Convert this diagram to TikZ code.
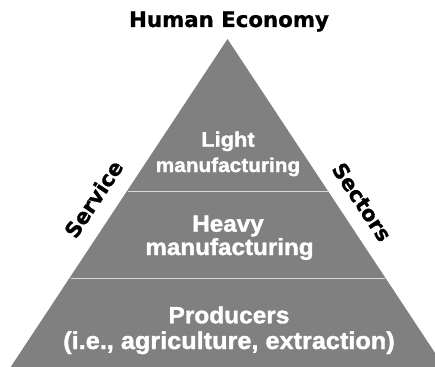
\documentclass[tikz,border=0pt]{standalone}
\usepackage{fontspec}
\newfontfamily\bodyfont{Liberation Sans Bold}[FakeStretch=1.04,FakeBold=1.5]
\newfontfamily\headfont{DejaVu Sans Bold}[FakeBold=1.0]
\definecolor{pyrfill}{gray}{0.5}
\definecolor{divline}{gray}{0.85}
\tikzset{
  headtext/.style={inner sep=0pt, anchor=base, text=black, font=\headfont\fontsize{21.3}{24}\selectfont},
  sidetext/.style={inner sep=0pt, anchor=center, text=black, font=\headfont\fontsize{21}{24}\selectfont},
  layertext/.style={inner sep=0pt, anchor=base, text=white},
  divider/.style={draw=divline, line width=1.5pt},
}
\begin{document}
\begin{tikzpicture}[x=1pt,y=-1pt]
\useasboundingbox (0,0) rectangle (435,366);
\clip (0,0) rectangle (435,366);
% pyramid
\coordinate (apex) at (227.5,39);
\coordinate (bl) at (8.7,370);
\coordinate (br) at (446.3,370);
\fill[pyrfill] (apex) -- (bl) -- (br) -- cycle;
% dividers
\coordinate (d1l) at (127.5,191.5);
\coordinate (d1r) at (327.5,191.5);
\coordinate (d2l) at (70.5,278.3);
\coordinate (d2r) at (384.5,278.3);
\draw[divider] (d1l) -- (d1r);
\draw[divider] (d2l) -- (d2r);
% title
\node[headtext] (title) at (229,27) {Human Economy};
% layers
\node[layertext, font=\bodyfont\fontsize{21}{24}\selectfont] (l1) at (228,146.7) {Light};
\node[layertext, font=\bodyfont\fontsize{20}{24}\selectfont] (l2) at (228,172) {manufacturing};
\node[layertext, font=\bodyfont\fontsize{23.3}{26}\selectfont] (h1) at (228,231.7) {Heavy};
\node[layertext, font=\bodyfont\fontsize{23.3}{26}\selectfont] (h2) at (229.5,255) {manufacturing};
\node[layertext, font=\bodyfont\fontsize{23.5}{26}\selectfont] (p1) at (229,323.3) {Producers};
\node[layertext, font=\bodyfont\fontsize{24.3}{26}\selectfont] (p2) at (229,349) {(i.e., agriculture, extraction)};
% sides
\node[sidetext, rotate=56.5] (service) at (93.5,199) {Service};
\node[sidetext, rotate=-56.5] (sectors) at (362,202) {Sectors};
\end{tikzpicture}
\end{document}
